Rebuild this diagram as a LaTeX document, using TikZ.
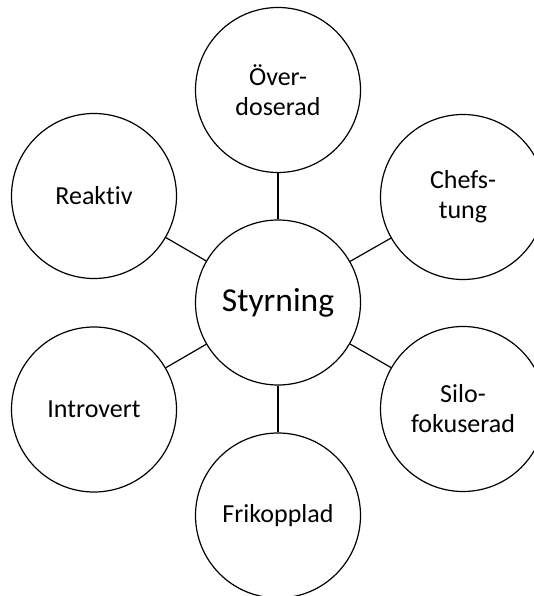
\documentclass[tikz,border=0pt]{standalone}
\usepackage{fontspec}
\setmainfont{Carlito}[Ligatures=NoCommon]
\begin{document}
\begin{tikzpicture}[x=1pt,y=-1pt,
  bub/.style={draw=black, line width=1.2pt, circle, minimum size=165pt, inner sep=0pt, align=center, font=\fontsize{26}{30}\selectfont},
  link/.style={draw=black, line width=1.2pt}]
\useasboundingbox (0,0) rectangle (534,596);
\node[bub, font=\fontsize{33.5}{38}\selectfont] (c) at (278,302.5) {Styrning};
\node[bub] (t) at (278,90) {Över-\\doserad};
\node[bub] (tr) at (463,197) {Chefs-\\tung};
\node[bub] (br) at (463,409) {Silo-\\fokuserad};
\node[bub] (b) at (278,515.5) {Frikopplad};
\node[bub] (bl) at (94,409.5) {Introvert};
\node[bub] (tl) at (94,196) {Reaktiv};
\foreach \n in {t,tr,br,b,bl,tl} \draw[link] (c) -- (\n);
\end{tikzpicture}
\end{document}
